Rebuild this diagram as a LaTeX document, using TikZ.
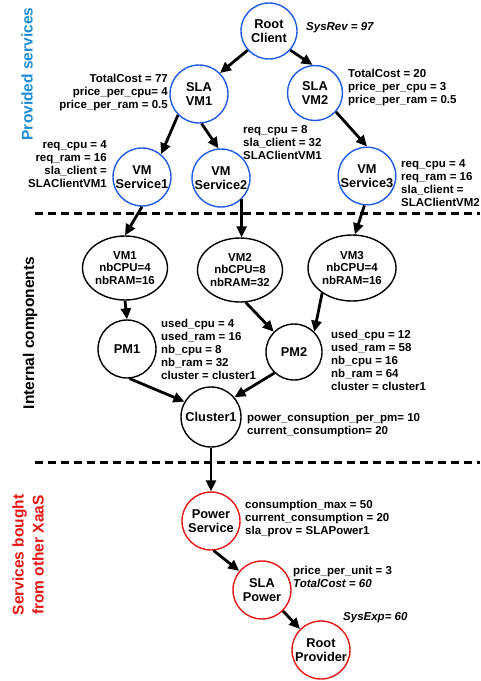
\documentclass[tikz,border=0pt]{standalone}
\usepackage{fontspec}
\setmainfont{Liberation Sans}
\usetikzlibrary{arrows.meta,shapes.geometric}
\definecolor{cblue}{RGB}{30,90,230}
\definecolor{tblue}{RGB}{28,140,215}
\definecolor{cred}{RGB}{232,20,20}
\newcommand{\lblL}[1]{\begin{tabular}[t]{@{}l@{}}#1\end{tabular}}
\newcommand{\lblR}[1]{\begin{tabular}[t]{@{}r@{}}#1\end{tabular}}
\begin{document}
\begin{tikzpicture}[x=1pt,y=-1pt,
  cnode/.style={circle,draw=#1,line width=1.4pt,minimum size=58pt,inner sep=0pt,align=center,
    font=\fontsize{12.8}{14.5}\selectfont\bfseries},
  ell/.style={ellipse,draw,line width=1.4pt,minimum width=85pt,minimum height=64pt,inner sep=0pt,align=center,
    font=\fontsize{11.5}{12.5}\selectfont\bfseries},
  lbl/.style={inner sep=0pt,font=\fontsize{11.5}{13}\selectfont\bfseries},
  side/.style={rotate=90,inner sep=0pt,align=center,font=\fontsize{15.5}{20}\selectfont\bfseries},
  arr/.style={line width=2.8pt,-{Triangle[length=11pt,width=10pt]}},
  sep/.style={line width=3pt,dash pattern=on 8pt off 5pt}
]
\useasboundingbox (0,0) rectangle (480,681);

% separators
\draw[sep] (35,213) -- (480,213);
\draw[sep] (35,462) -- (480,462);

% side titles
\node[side,text=tblue] (t1) at (27,74) {Provided services};
\node[side] (t2) at (30,333) {Internal components};
\node[side,text=cred] (t3) at (28,555) {Services bought\\from other XaaS};

% provided services
\node[cnode=cblue,minimum size=56pt] (rc) at (269,31) {Root\\Client};
\node[cnode=cblue] (slavm1) at (199,94) {SLA\\VM1};
\node[cnode=cblue,minimum size=55pt] (slavm2) at (315,93) {SLA\\VM2};
\node[cnode=cblue] (vms1) at (142,177) {VM\\Service1};
\node[cnode=cblue] (vms2) at (221,178) {VM\\Service2};
\node[cnode=cblue,minimum size=56pt] (vms3) at (367,176) {VM\\Service3};

% internal
\node[ell] (vm1) at (125,268) {VM1\\nbCPU=4\\nbRAM=16};
\node[ell] (vm2) at (240,270) {VM2\\nbCPU=8\\nbRAM=32};
\node[ell,minimum width=88pt,minimum height=66pt] (vm3) at (352,268) {VM3\\nbCPU=4\\nbRAM=16};
\node[cnode=black] (pm1) at (127,349) {PM1};
\node[cnode=black,minimum size=56pt] (pm2) at (294,352) {PM2};
\node[cnode=black,minimum size=60pt] (cl) at (211,417) {Cluster1};

% bought
\node[cnode=cred] (ps) at (211,521) {Power\\Service};
\node[cnode=cred] (sp) at (262,590) {SLA\\Power};
\node[cnode=cred] (rp) at (321,650) {Root\\Provider};

% labels
\node[lbl,anchor=base west] (lsys) at (306,30) {\textit{SysRev = 97}};
\node[lbl,anchor=base east] (l77) at (168,82) {\lblR{TotalCost = 77\\price\_per\_cpu= 4\\price\_per\_ram = 0.5}};
\node[lbl,anchor=base west] (l20) at (348,77) {\lblL{TotalCost = 20\\price\_per\_cpu = 3\\price\_per\_ram = 0.5}};
\node[lbl,anchor=base east] (lr1) at (107,148) {\lblR{req\_cpu = 4\\req\_ram = 16\\sla\_client =\\SLAClientVM1}};
\node[lbl,anchor=base west] (lr2) at (243,133) {\lblL{req\_cpu = 8\\sla\_client = 32\\SLAClientVM1}};
\node[lbl,anchor=base west] (lr3) at (401,167) {\lblL{req\_cpu = 4\\req\_ram = 16\\sla\_client =\\SLAClientVM2}};
\node[lbl,anchor=base west] (lpm1) at (161,327) {\lblL{used\_cpu = 4\\used\_ram = 16\\nb\_cpu = 8\\nb\_ram = 32\\cluster = cluster1}};
\node[lbl,anchor=base west] (lpm2) at (331,338) {\lblL{used\_cpu = 12\\used\_ram = 58\\nb\_cpu = 16\\nb\_ram = 64\\cluster = cluster1}};
\node[lbl,anchor=base west] (lcl) at (247,421) {\lblL{power\_consuption\_per\_pm= 10\\current\_consumption= 20}};
\node[lbl,anchor=base west] (lps) at (245,508) {\lblL{consumption\_max = 50\\current\_consumption = 20\\sla\_prov = SLAPower1}};
\node[lbl,anchor=base west] (lsp) at (293,574) {\lblL{price\_per\_unit = 3\\\textit{TotalCost = 60}}};
\node[lbl,anchor=base west] (lse) at (343,620) {\textit{SysExp= 60}};

% connectors
\draw[arr] (rc.222) -- (slavm1.45);
\draw[arr] (rc.-42) -- (slavm2.95);
\draw[arr] (slavm1.225) -- (vms1.50);
\draw[arr] (slavm1.-85) -- (vms2.95);
\draw[arr] (slavm2.-42) -- (vms3.90);
\draw[arr] (vms1.-90) -- (vm1.90);
\draw[arr] (vms2.-46) -- (vms2.-46 |- vm2.north);
\draw[arr] (vms3.-95) -- (vm3.85);
\draw[arr] (vm1.-90) -- (pm1.90);
\draw[arr] (vm2.-80) -- (pm2.135);
\draw[arr] (vm3.220) -- (pm2.45);
\draw[arr] (pm1.-85) -- (cl.150);
\draw[arr] (pm2.227) -- (cl.40);
\draw[arr] (cl.-90) -- (ps.90);
\draw[arr] (ps.-85) -- (sp.140);
\draw[arr] (sp.-45) -- (rp.135);
\end{tikzpicture}
\end{document}
